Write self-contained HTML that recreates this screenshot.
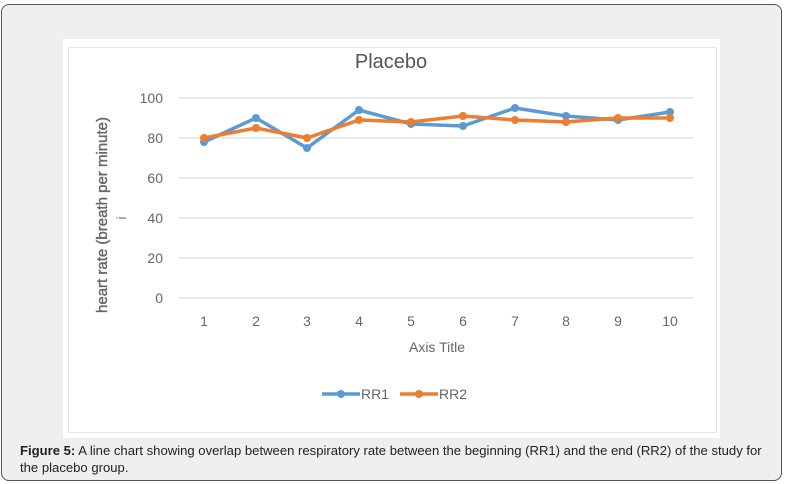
<!DOCTYPE html>
<html><head><style>
body{margin:0;width:786px;height:484px;background:#fff;font-family:"Liberation Sans",sans-serif;}
.frame{position:absolute;left:1px;top:4px;width:779px;height:475px;background:#efefef;border:1px solid #555;border-radius:8px;}
.cap{position:absolute;left:20px;top:442px;width:750px;font-size:13.1px;line-height:17px;color:#222;}
</style></head><body>
<div class="frame"></div>
<svg style="position:absolute;left:0;top:0" width="786" height="484">
<rect x="63" y="39" width="657" height="399" fill="#fff"/>
<rect x="68.5" y="47.5" width="648" height="385" fill="none" stroke="#e8e8e8"/>
<text x="391" y="68" font-size="20" fill="#555" text-anchor="middle" font-family="Liberation Sans">Placebo</text>
<g stroke="#e3e3e3" stroke-width="1.5">
<line x1="178" x2="694" y1="98" y2="98"/><line x1="178" x2="694" y1="138" y2="138"/>
<line x1="178" x2="694" y1="178" y2="178"/><line x1="178" x2="694" y1="218" y2="218"/>
<line x1="178" x2="694" y1="258" y2="258"/><line x1="178" x2="694" y1="298" y2="298"/>
</g>
<g font-size="14" fill="#666" text-anchor="end" font-family="Liberation Sans">
<text x="163" y="103">100</text><text x="163" y="143">80</text><text x="163" y="183">60</text>
<text x="163" y="223">40</text><text x="163" y="263">20</text><text x="163" y="303">0</text>
</g>
<g font-size="14" fill="#666" text-anchor="middle" font-family="Liberation Sans">
<text x="204" y="326">1</text><text x="256" y="326">2</text><text x="307" y="326">3</text><text x="359" y="326">4</text><text x="411" y="326">5</text><text x="463" y="326">6</text><text x="515" y="326">7</text><text x="566" y="326">8</text><text x="618" y="326">9</text><text x="670" y="326">10</text>
<text x="437" y="352" font-size="14">Axis Title</text>
</g>
<text transform="translate(107,215) rotate(-90)" font-size="15" fill="#666" stroke="#666" stroke-width="0.4" text-anchor="middle" font-family="Liberation Sans">heart rate (breath per minute)</text>
<text transform="translate(126,218) rotate(-90)" font-size="13" fill="#666" text-anchor="middle">i</text>
<polyline fill="none" stroke="#5b9bd5" stroke-width="3.5" stroke-linejoin="round" points="204,142 256,118 307,148 359,110 411,124 463,126 515,108 566,116 618,120 670,112"/>
<g fill="#5b9bd5"><circle cx="204" cy="142" r="4"/><circle cx="256" cy="118" r="4"/><circle cx="307" cy="148" r="4"/><circle cx="359" cy="110" r="4"/><circle cx="411" cy="124" r="4"/><circle cx="463" cy="126" r="4"/><circle cx="515" cy="108" r="4"/><circle cx="566" cy="116" r="4"/><circle cx="618" cy="120" r="4"/><circle cx="670" cy="112" r="4"/></g>
<polyline fill="none" stroke="#ed7d31" stroke-width="3.5" stroke-linejoin="round" points="204,138 256,128 307,138 359,120 411,122 463,116 515,120 566,122 618,118 670,118"/>
<g fill="#ed7d31"><circle cx="204" cy="138" r="4"/><circle cx="256" cy="128" r="4"/><circle cx="307" cy="138" r="4"/><circle cx="359" cy="120" r="4"/><circle cx="411" cy="122" r="4"/><circle cx="463" cy="116" r="4"/><circle cx="515" cy="120" r="4"/><circle cx="566" cy="122" r="4"/><circle cx="618" cy="118" r="4"/><circle cx="670" cy="118" r="4"/></g>
<line x1="322" x2="360" y1="394" y2="394" stroke="#5b9bd5" stroke-width="3.5"/><circle cx="341" cy="394" r="4" fill="#5b9bd5"/>
<text x="361" y="399" font-size="14" fill="#666" font-family="Liberation Sans">RR1</text>
<line x1="400" x2="438" y1="394" y2="394" stroke="#ed7d31" stroke-width="3.5"/><circle cx="419" cy="394" r="4" fill="#ed7d31"/>
<text x="439" y="399" font-size="14" fill="#666" font-family="Liberation Sans">RR2</text>
</svg>
<div class="cap"><b>Figure 5:</b> A line chart showing overlap between respiratory rate between the beginning (RR1) and the end (RR2) of the study for the placebo group.</div>
</body></html>
